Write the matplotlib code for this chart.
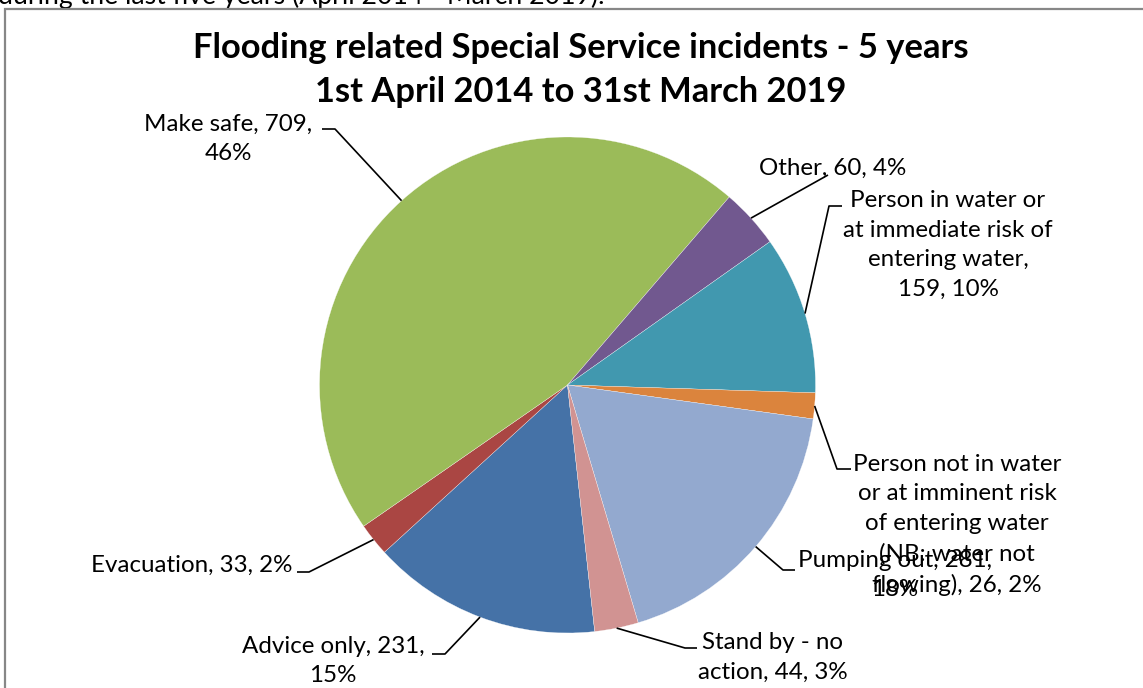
import matplotlib
matplotlib.use("Agg")
import numpy as np
import matplotlib.pyplot as plt
from matplotlib.patches import Rectangle

W, H = 1143, 688
plt.rcParams.update({"font.family": ["Lato", "DejaVu Sans"]})

categories = ["Advice only", "Evacuation", "Make safe", "Other",
              "Person in water or\nat immediate risk of\nentering water,",
              "Person not in water\nor at imminent risk\nof entering water\n(NB: water not\nflowing),",
              "Pumping out,", "Stand by - no\naction,"]
counts = [231, 33, 709, 60, 159, 26, 281, 44]
percents = [15, 2, 46, 4, 10, 2, 18, 3]
colors = ["#4572A7", "#AA4643", "#9BBB59", "#71588F",
          "#4198AF", "#DB843D", "#93A9CF", "#D19392"]

# label text: centre (px), leader elbow (px), leader end next to text (px)
label_text = [
    "Advice only, 231,\n15%",
    "Evacuation, 33, 2%",
    "Make safe, 709,\n46%",
    "Other, 60, 4%",
    "Person in water or\nat immediate risk of\nentering water,\n159, 10%",
    "Person not in water\nor at imminent risk\nof entering water\n(NB: water not\nflowing), 26, 2%",
    "Pumping out, 281,\n18%",
    "Stand by - no\naction, 44, 3%",
]
label_xy = [(333, 661), (192, 565), (228, 139), (833, 168),
            (948, 245), (957, 525), (895, 575), (773, 657)]
elbow = [(445, 654), (309, 572), (335, 129), (828, 175),
         (829, 206), (837, 469), (783, 570), (685, 648)]
tail = [(432, 654), (297, 572), (322, 129), (828, 175),
        (842, 206), (851, 469), (795, 570), (697, 648)]

cx, cy, R = 567.5, 385, 248
start_cw = 173.7  # clockwise from 12 o'clock


def px(x, y):
    return x, H - y


fig = plt.figure(figsize=(W / 100, H / 100), dpi=100)
ax = fig.add_axes([0, 0, 1, 1])

wedges, _ = ax.pie(counts, colors=colors, startangle=90 - start_cw, counterclock=False,
                   radius=R, center=px(cx, cy),
                   wedgeprops=dict(edgecolor="white", linewidth=0.2))
ax.set_xlim(0, W)
ax.set_ylim(0, H)
ax.set_aspect("equal")
ax.axis("off")

# leader lines from the middle of each wedge's rim
for w, txt, (lx, ly), e, t in zip(wedges, label_text, label_xy, elbow, tail):
    mid = np.radians((w.theta1 + w.theta2) / 2)
    ax_, ay_ = cx + R * np.cos(mid), H - cy + R * np.sin(mid)
    xs = [ax_, e[0], t[0]]
    ys = [ay_, H - e[1], H - t[1]]
    ax.plot(xs, ys, color="black", lw=1.2, solid_capstyle="butt", zorder=3)
    ax.text(lx, H - ly, txt, ha="center", va="center", fontsize=17.4,
            linespacing=1.52, color="black", zorder=4)

ax.text(581, H - 70, "Flooding related Special Service incidents - 5 years\n"
        "1st April 2014 to 31st March 2019", ha="center", va="center",
        fontsize=24.8, fontweight="bold", linespacing=1.48)

# chart frame and the page text above it
ax.add_patch(Rectangle((5, -20), W + 20, H - 9 + 20, fill=False,
                       ec="#878787", lw=1.6, zorder=5))
ax.text(-2, H - 4, "during the last five years (April 2014 - March 2019).",
        ha="left", va="baseline", fontsize=19.2, color="black")

fig.savefig("out.png", dpi=100)
